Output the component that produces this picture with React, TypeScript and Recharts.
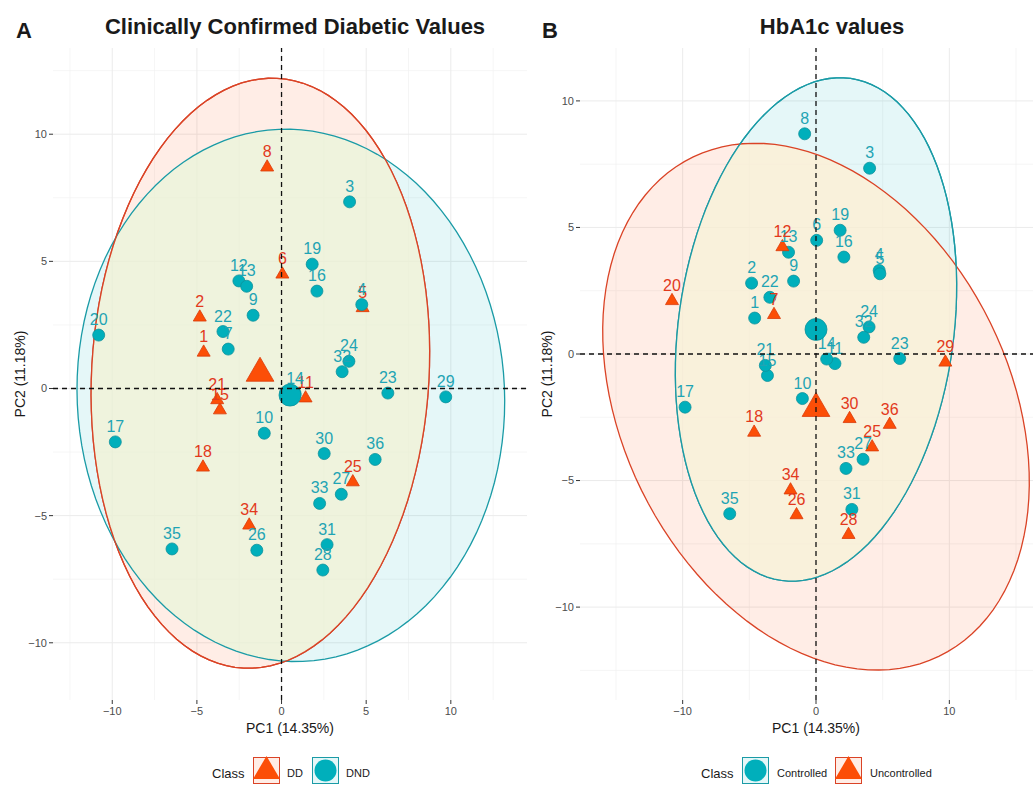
import React from 'react';
import { ScatterChart, Scatter, XAxis, YAxis, CartesianGrid } from 'recharts';

// PCA scores of the 36 samples (identical in both panels, only the class differs)
const sampleIds = [1, 2, 3, 4, 5, 6, 7, 8, 9, 10, 11, 12, 13, 14, 15, 16, 17, 18, 19, 20, 21, 22, 23, 24, 25, 26, 27, 28, 29, 30, 31, 32, 33, 34, 35, 36];
const pc1 = [-4.6, -4.83, 4.02, 4.74, 4.79, 0.05, -3.15, -0.85, -1.68, -1.02, 1.42, -2.52, -2.06, 0.8, -3.64, 2.09, -9.82, -4.64, 1.81, -10.8, -3.8, -3.46, 6.28, 3.98, 4.21, -1.46, 3.53, 2.44, 9.7, 2.52, 2.69, 3.58, 2.25, -1.91, -6.47, 5.53];
const pc2 = [1.42, 2.8, 7.34, 3.3, 3.17, 4.49, 1.55, 8.7, 2.88, -1.76, -0.38, 4.23, 4.02, -0.2, -0.85, 3.83, -2.1, -3.1, 4.89, 2.1, -0.45, 2.24, -0.18, 1.07, -3.68, -6.36, -4.16, -7.14, -0.33, -2.56, -6.14, 0.66, -4.52, -5.38, -6.31, -2.79];

const classA = ['DD', 'DD', 'DND', 'DND', 'DD', 'DD', 'DND', 'DD', 'DND', 'DND', 'DD', 'DND', 'DND', 'DND', 'DD', 'DND', 'DND', 'DD', 'DND', 'DND', 'DD', 'DND', 'DND', 'DND', 'DD', 'DND', 'DND', 'DND', 'DND', 'DND', 'DND', 'DND', 'DND', 'DD', 'DND', 'DND'];
const classB = ['Controlled', 'Controlled', 'Controlled', 'Controlled', 'Controlled', 'Controlled', 'Uncontrolled', 'Controlled', 'Controlled', 'Controlled', 'Controlled', 'Uncontrolled', 'Controlled', 'Controlled', 'Controlled', 'Controlled', 'Controlled', 'Uncontrolled', 'Controlled', 'Uncontrolled', 'Controlled', 'Controlled', 'Controlled', 'Controlled', 'Uncontrolled', 'Uncontrolled', 'Controlled', 'Uncontrolled', 'Uncontrolled', 'Uncontrolled', 'Controlled', 'Controlled', 'Controlled', 'Uncontrolled', 'Controlled', 'Uncontrolled'];

// group centroids [pc1, pc2]
const centroidDD = [-1.27, 0.6];
const centroidDND = [0.5, -0.26];
const centroidControlled = [0, 0.97];
const centroidUncontrolled = [0, -2.15];

// confidence ellipses [centre pc1, centre pc2, semi-axis a, semi-axis b, angle deg]
const ellipseDD = [-1.25, 0.6, 11.68, 9.91, 77.5];
const ellipseDND = [0.55, -0.27, 12.64, 10.46, -3.4];
const ellipseControlled = [0, 0.97, 11.14, 9.28, 35.5];
const ellipseUncontrolled = [0, -2.08, 16.43, 9.71, -16.4];

// axes
const xTicksA = [-10, -5, 0, 5, 10];
const xMinorA = [-12.5, -7.5, -2.5, 2.5, 7.5, 12.5];
const yTicksA = [-10, -5, 0, 5, 10];
const yMinorA = [-7.5, -2.5, 2.5, 7.5, 12.5];
const xTicksB = [-10, 0, 10];
const xMinorB = [-15, -5, 5, 15];
const yTicksB = [-10, -5, 0, 5, 10];
const yMinorB = [-12.5, -7.5, -2.5, 2.5, 7.5];

const TEAL = '#00AFBB';
const RED = '#FC4E07';
const TEAL_LINE = '#1A9BA6';
const RED_LINE = '#DA4326';
const TEAL_TEXT = '#1FA4B4';
const RED_TEXT = '#E2391C';
const FONT = '"Liberation Sans", Arial, sans-serif';

type Marker = 'circle' | 'triangle';
interface Group {
  name: string;
  marker: Marker;
  centroid: number[];
  ellipse: number[];
}

const ellipsePoints = (e: number[]) => {
  const [cx, cy, a, b, deg] = e;
  const ang = (deg * Math.PI) / 180;
  const pts: { x: number; y: number }[] = [];
  for (let i = 0; i <= 120; i++) {
    const t = (i / 120) * Math.PI * 2;
    const u = a * Math.cos(t);
    const v = b * Math.sin(t);
    pts.push({ x: cx + u * Math.cos(ang) - v * Math.sin(ang), y: cy + u * Math.sin(ang) + v * Math.cos(ang) });
  }
  return pts;
};

// the first ellipse of a panel exposes a clip path; the second one paints the overlap with its own tint
interface EllOpts {
  id: string;
  stroke: string;
  fill: string;
  clipOf?: string;
  overlapFill?: string;
}
const ellipseLine = (o: EllOpts) => (props: any) => {
  const pts: { x: number; y: number }[] = props.points || [];
  const d = pts.map((p, i) => `${i ? 'L' : 'M'}${p.x},${p.y}`).join('') + 'Z';
  return (
    <g>
      <defs>
        <clipPath id={`clip-${o.id}`}>
          <path d={d} />
        </clipPath>
      </defs>
      <path d={d} fill={o.fill} fillOpacity={0.1} stroke="none" />
      {o.clipOf && <path d={d} fill={o.overlapFill} fillOpacity={0.75} stroke="none" clipPath={`url(#clip-${o.clipOf})`} />}
      <path id={`outline-${o.id}`} d={d} fill="none" stroke={o.stroke} strokeWidth={1.3} />
      {o.clipOf && <use href={`#outline-${o.clipOf}`} />}
    </g>
  );
};

const markerShape = (kind: Marker, size: number) => (p: any) => {
  const { cx, cy } = p;
  if (cx == null || cy == null) return <g />;
  if (kind === 'circle') {
    return <circle cx={cx} cy={cy} r={size} fill={TEAL} stroke="#0E929C" strokeWidth={0.8} />;
  }
  const h = size * 0.866;
  return (
    <polygon
      points={`${cx},${cy - size} ${cx + h},${cy + size / 2} ${cx - h},${cy + size / 2}`}
      fill={RED}
      stroke="#D93A0A"
      strokeWidth={0.8}
    />
  );
};

const labelShape = (color: string) => (p: any) => {
  const id = p.payload?.id ?? p.id;
  return (
    <text x={p.cx} y={p.cy - 10} textAnchor="middle" fontSize={16} fill={color} fontFamily={FONT}>
      {id}
    </text>
  );
};

const fmt = (v: number) => (v < 0 ? `\u2212${Math.abs(v)}` : String(v));
const dashed = { stroke: '#111', strokeWidth: 1.3, strokeDasharray: '5 4', fill: 'none' };

interface PanelProps {
  tag: string;
  left: number;
  width: number;
  xDomain: number[];
  yDomain: number[];
  xTicks: number[];
  xMinor: number[];
  yTicks: number[];
  yMinor: number[];
  classes: string[];
  groups: Group[];
  overlapFill: string;
}

function Panel({ tag, left, width, xDomain, yDomain, xTicks, xMinor, yTicks, yMinor, classes, groups, overlapFill }: PanelProps) {
  const pointsOf = (name: string) =>
    sampleIds.filter((_, i) => classes[i] === name).map((id) => ({ x: pc1[id - 1], y: pc2[id - 1], id }));
  const colorOf = (g: Group) => (g.marker === 'circle' ? TEAL : RED);
  const lineOf = (g: Group) => (g.marker === 'circle' ? TEAL_LINE : RED_LINE);
  const textOf = (g: Group) => (g.marker === 'circle' ? TEAL_TEXT : RED_TEXT);

  return (
    <div style={{ position: 'absolute', left, top: 0 }}>
      <ScatterChart width={width} height={740} margin={{ top: 48, right: 6, bottom: 0, left: 0 }}>
        <CartesianGrid verticalValues={xMinor} horizontalValues={yMinor} stroke="#F0F0F0" strokeWidth={0.7} />
        <CartesianGrid verticalValues={xTicks} horizontalValues={yTicks} stroke="#EBEBEB" strokeWidth={1} />
        <XAxis
          type="number"
          dataKey="x"
          domain={xDomain}
          ticks={xTicks}
          interval={0}
          allowDataOverflow
          axisLine={false}
          tickLine={{ stroke: '#333' }}
          tickSize={4}
          tickMargin={3}
          height={40}
          tick={{ fontSize: 11, fill: '#4D4D4D' }}
          tickFormatter={fmt}
        />
        <YAxis
          type="number"
          dataKey="y"
          domain={yDomain}
          ticks={yTicks}
          interval={0}
          allowDataOverflow
          axisLine={false}
          tickLine={{ stroke: '#333' }}
          tickSize={4}
          tickMargin={2}
          width={53}
          tick={{ fontSize: 11, fill: '#4D4D4D' }}
          tickFormatter={fmt}
        />
        {groups.map((g, gi) => (
          <Scatter
            key={`ell-${g.name}`}
            data={ellipsePoints(g.ellipse)}
            line={ellipseLine({
              id: `${tag}-${gi}`,
              stroke: lineOf(g),
              fill: colorOf(g),
              clipOf: gi > 0 ? `${tag}-0` : undefined,
              overlapFill,
            })}
            shape={() => <g />}
            legendType="none"
            isAnimationActive={false}
          />
        ))}
        {groups.map((g) => (
          <Scatter
            key={`pts-${g.name}`}
            data={pointsOf(g.name)}
            shape={markerShape(g.marker, g.marker === 'circle' ? 6 : 7.5)}
            isAnimationActive={false}
          />
        ))}
        {groups.map((g) => (
          <Scatter
            key={`lbl-${g.name}`}
            data={pointsOf(g.name)}
            shape={labelShape(textOf(g))}
            isAnimationActive={false}
          />
        ))}
        {groups.map((g) => (
          <Scatter
            key={`cen-${g.name}`}
            data={[{ x: g.centroid[0], y: g.centroid[1] }]}
            shape={markerShape(g.marker, g.marker === 'circle' ? 11 : 16)}
            isAnimationActive={false}
          />
        ))}
        {/* dashed zero lines, on top of everything like geom_vline / geom_hline */}
        <Scatter
          data={[{ x: 0, y: yDomain[0] }, { x: 0, y: yDomain[1] }]}
          line={dashed}
          shape={() => <g />}
          isAnimationActive={false}
        />
        <Scatter
          data={[{ x: xDomain[0], y: 0 }, { x: xDomain[1], y: 0 }]}
          line={dashed}
          shape={() => <g />}
          isAnimationActive={false}
        />
      </ScatterChart>
    </div>
  );
}

function LegendKey({ left, kind }: { left: number; kind: Marker }) {
  const line = kind === 'circle' ? TEAL_LINE : RED_LINE;
  const fill = kind === 'circle' ? 'rgba(0,175,187,0.1)' : 'rgba(252,78,7,0.1)';
  return (
    <div
      style={{
        position: 'absolute',
        left,
        top: 757,
        width: 27,
        height: 27,
        boxSizing: 'border-box',
        border: `1.3px solid ${line}`,
        background: fill,
      }}
    >
      <svg width={27} height={27} style={{ position: 'absolute', left: -1, top: -1, overflow: 'visible' }}>
        {kind === 'circle' ? (
          <circle cx={13.5} cy={13.5} r={11} fill={TEAL} />
        ) : (
          <polygon points="13.5,-1 27,22 0,22" fill={RED} />
        )}
      </svg>
    </div>
  );
}

const txt = (left: number, top: number, size: number, text: string, extra: React.CSSProperties = {}) => (
  <div style={{ position: 'absolute', left, top, fontSize: size, lineHeight: `${size}px`, whiteSpace: 'nowrap', ...extra }}>{text}</div>
);

export default function App() {
  const groupsA: Group[] = [
    { name: 'DD', marker: 'triangle', centroid: centroidDD, ellipse: ellipseDD },
    { name: 'DND', marker: 'circle', centroid: centroidDND, ellipse: ellipseDND },
  ];
  const groupsB: Group[] = [
    { name: 'Controlled', marker: 'circle', centroid: centroidControlled, ellipse: ellipseControlled },
    { name: 'Uncontrolled', marker: 'triangle', centroid: centroidUncontrolled, ellipse: ellipseUncontrolled },
  ];

  return (
    <div
      style={{
        position: 'absolute',
        left: 0,
        top: 0,
        width: 1033,
        height: 785,
        overflow: 'hidden',
        background: '#fff',
        fontFamily: FONT,
        color: '#1a1a1a',
      }}
    >
      <Panel
        tag="a"
        left={0}
        width={533}
        xDomain={[-13.5, 14.5]}
        yDomain={[-12.25, 13.39]}
        xTicks={xTicksA}
        xMinor={xMinorA}
        yTicks={yTicksA}
        yMinor={yMinorA}
        classes={classA}
        groups={groupsA}
        overlapFill="#F1F7DB"
      />
      <Panel
        tag="b"
        left={527}
        width={531}
        xDomain={[-17.7, 17.7]}
        yDomain={[-13.67, 12.09]}
        xTicks={xTicksB}
        xMinor={xMinorB}
        yTicks={yTicksB}
        yMinor={yMinorB}
        classes={classB}
        groups={groupsB}
        overlapFill="#FFF4DA"
      />

      {/* panel letters and titles */}
      {txt(16, 20, 22, 'A', { fontWeight: 700 })}
      <div style={{ position: 'absolute', left: 0, top: 16, width: 590, textAlign: 'center', fontSize: 22, lineHeight: '22px', fontWeight: 700 }}>
        Clinically Confirmed Diabetic Values
      </div>
      {txt(542, 20, 22, 'B', { fontWeight: 700 })}
      <div style={{ position: 'absolute', left: 632, top: 16, width: 400, textAlign: 'center', fontSize: 22, lineHeight: '22px', fontWeight: 700 }}>
        HbA1c values
      </div>

      {/* axis titles */}
      <div style={{ position: 'absolute', left: 190, top: 721, width: 200, textAlign: 'center', fontSize: 14, lineHeight: '14px' }}>PC1 (14.35%)</div>
      <div style={{ position: 'absolute', left: 716, top: 721, width: 200, textAlign: 'center', fontSize: 14, lineHeight: '14px' }}>PC1 (14.35%)</div>
      <div style={{ position: 'absolute', left: -80, top: 367, width: 200, textAlign: 'center', fontSize: 14, lineHeight: '14px', transform: 'rotate(-90deg)' }}>PC2 (11.18%)</div>
      <div style={{ position: 'absolute', left: 447, top: 367, width: 200, textAlign: 'center', fontSize: 14, lineHeight: '14px', transform: 'rotate(-90deg)' }}>PC2 (11.18%)</div>

      {/* legends */}
      {txt(212, 767, 13, 'Class')}
      <LegendKey left={253} kind="triangle" />
      {txt(287, 768, 11, 'DD')}
      <LegendKey left={312} kind="circle" />
      {txt(346, 768, 11, 'DND')}

      {txt(701, 767, 13, 'Class')}
      <LegendKey left={742} kind="circle" />
      {txt(777, 768, 11, 'Controlled')}
      <LegendKey left={835} kind="triangle" />
      {txt(870, 768, 11, 'Uncontrolled')}
    </div>
  );
}
